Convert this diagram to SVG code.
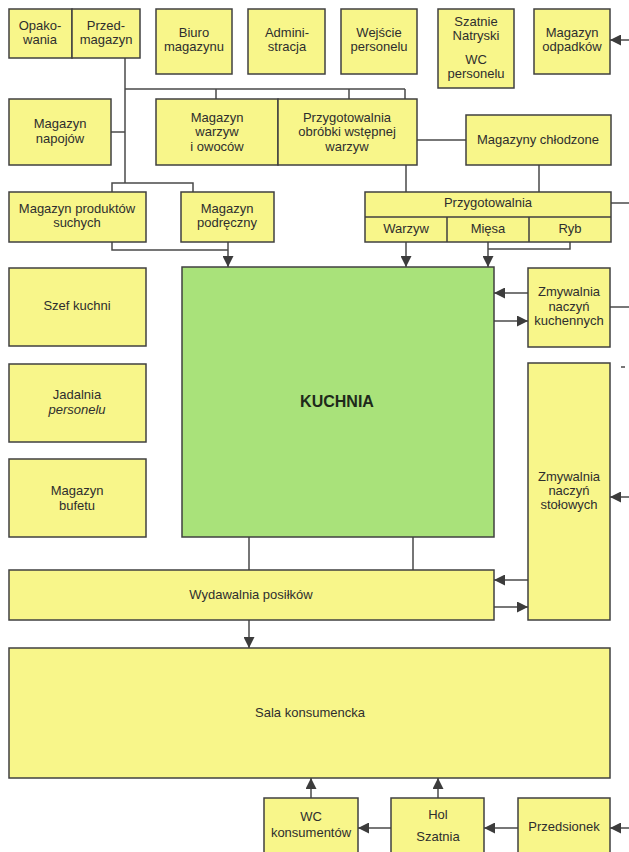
<svg xmlns="http://www.w3.org/2000/svg" width="629" height="852" viewBox="0 0 629 852">
<defs>
<marker id="ah" markerUnits="userSpaceOnUse" markerWidth="11" markerHeight="11" refX="11" refY="5.5" orient="auto">
<path d="M0,0 L11,5.5 L0,11 z" fill="#3c3c3c"/>
</marker>
</defs>
<style>
.b{fill:#f8f68a;stroke:#404040;stroke-width:1.5}
.k{fill:#a9e27a;stroke:#404040;stroke-width:1.5}
.t{font-family:"Liberation Sans",Arial,sans-serif;font-size:13px;fill:#2e2e2e;text-anchor:middle}
.c{fill:none;stroke:#4a4a4a;stroke-width:1.5}
.a{fill:none;stroke:#4a4a4a;stroke-width:1.5;marker-end:url(#ah)}
</style>
<rect width="629" height="852" fill="#ffffff"/>

<g id="connectors">
<path class="c" d="M125,58 V183"/>
<path class="c" d="M125,89 H405 M216,89 V99 M349,89 V99 M405,89 V99"/>
<path class="c" d="M111,132 H125"/>
<path class="c" d="M112,192 V183 H193 V192"/>
<path class="c" d="M112,242 V250 H228"/>
<path class="a" d="M228,242 V267"/>
<path class="c" d="M417,140 H466"/>
<path class="c" d="M406,165 V192 M539,165 V192"/>
<path class="c" d="M611,203 H629"/>
<path class="a" d="M406,242 V267"/>
<path class="c" d="M570,242 V249 H488"/>
<path class="a" d="M488,242 V267"/>
<path class="a" d="M629,40 H610"/>
<path class="a" d="M528,293 H494"/>
<path class="a" d="M494,321 H528"/>
<path class="c" d="M610,307 H629"/>
<path class="c" d="M621,367 H625"/>
<path class="a" d="M629,497 H610"/>
<path class="c" d="M249,537 V570 M413,537 V570"/>
<path class="a" d="M528,580 H494"/>
<path class="a" d="M494,607 H528"/>
<path class="a" d="M249,620 V648"/>
<path class="a" d="M311,798 V778"/>
<path class="a" d="M438,798 V778"/>
<path class="a" d="M391,828 H358"/>
<path class="a" d="M518,828 H484"/>
<path class="a" d="M629,828 H610"/>
</g>

<g id="opakowania"><rect class="b" x="9" y="9" width="63" height="49"/><text class="t" x="40" y="30">Opako-</text><text class="t" x="40" y="44">wania</text></g>
<g id="przedmagazyn"><rect class="b" x="72" y="9" width="68" height="49"/><text class="t" x="106" y="30">Przed-</text><text class="t" x="106" y="44">magazyn</text></g>
<g id="biuro"><rect class="b" x="156" y="9" width="76" height="65"/><text class="t" x="194" y="37">Biuro</text><text class="t" x="194" y="51">magazynu</text></g>
<g id="administracja"><rect class="b" x="248" y="9" width="77" height="65"/><text class="t" x="287" y="37">Admini-</text><text class="t" x="287" y="51">stracja</text></g>
<g id="wejscie"><rect class="b" x="341" y="9" width="76" height="65"/><text class="t" x="379" y="37">Wejście</text><text class="t" x="379" y="51">personelu</text></g>
<g id="szatnie"><rect class="b" x="438" y="9" width="76" height="79"/><text class="t" x="476" y="26">Szatnie</text><text class="t" x="476" y="40">Natryski</text><text class="t" x="476" y="64">WC</text><text class="t" x="476" y="78">personelu</text></g>
<g id="odpadki"><rect class="b" x="534" y="9" width="76" height="65"/><text class="t" x="572" y="37">Magazyn</text><text class="t" x="572" y="51">odpadków</text></g>

<g id="napoje"><rect class="b" x="9" y="99" width="102" height="66"/><text class="t" x="60" y="128">Magazyn</text><text class="t" x="60" y="143">napojów</text></g>
<g id="warzywa"><rect class="b" x="156" y="99" width="122" height="66"/><text class="t" x="217" y="122">Magazyn</text><text class="t" x="217" y="136">warzyw</text><text class="t" x="217" y="151">i owoców</text></g>
<g id="obrobka"><rect class="b" x="278" y="99" width="139" height="66"/><text class="t" x="347" y="122">Przygotowalnia</text><text class="t" x="347" y="136">obróbki wstępnej</text><text class="t" x="347" y="151">warzyw</text></g>
<g id="chlodzone"><rect class="b" x="466" y="115" width="145" height="50"/><text class="t" x="538" y="144">Magazyny chłodzone</text></g>

<g id="suche"><rect class="b" x="9" y="192" width="137" height="50"/><text class="t" x="77" y="213">Magazyn produktów</text><text class="t" x="77" y="227">suchych</text></g>
<g id="podreczny"><rect class="b" x="181" y="192" width="93" height="50"/><text class="t" x="227" y="213">Magazyn</text><text class="t" x="227" y="227">podręczny</text></g>
<g id="przygotowalnia"><rect class="b" x="365" y="192" width="246" height="50"/><path class="c" d="M365,217 H611 M447,217 V242 M529,217 V242" style="stroke:#404040"/><text class="t" x="488" y="207">Przygotowalnia</text><text class="t" x="406" y="233">Warzyw</text><text class="t" x="488" y="233">Mięsa</text><text class="t" x="570" y="233">Ryb</text></g>

<g id="szef"><rect class="b" x="9" y="268" width="137" height="78"/><text class="t" x="77" y="310">Szef kuchni</text></g>
<g id="jadalnia"><rect class="b" x="9" y="364" width="137" height="78"/><text class="t" x="77" y="399">Jadalnia</text><text class="t" x="77" y="414" font-style="italic">personelu</text></g>
<g id="bufet"><rect class="b" x="9" y="459" width="137" height="78"/><text class="t" x="77" y="495">Magazyn</text><text class="t" x="77" y="510">bufetu</text></g>

<g id="kuchnia"><rect class="k" x="182" y="267" width="312" height="270"/><text class="t" x="337" y="407" style="font-size:16px;font-weight:bold;fill:#1e2a1a">KUCHNIA</text></g>

<g id="zmyw-kuchenne"><rect class="b" x="528" y="268" width="82" height="79"/><text class="t" x="569" y="296">Zmywalnia</text><text class="t" x="569" y="311">naczyń</text><text class="t" x="569" y="325">kuchennych</text></g>
<g id="zmyw-stolowe"><rect class="b" x="528" y="363" width="82" height="257"/><text class="t" x="569" y="481">Zmywalnia</text><text class="t" x="569" y="495">naczyń</text><text class="t" x="569" y="509">stołowych</text></g>

<g id="wydawalnia"><rect class="b" x="9" y="570" width="485" height="50"/><text class="t" x="251" y="599">Wydawalnia posiłków</text></g>
<g id="sala"><rect class="b" x="9" y="648" width="601" height="130"/><text class="t" x="310" y="717">Sala konsumencka</text></g>

<g id="wc"><rect class="b" x="264" y="798" width="94" height="60"/><text class="t" x="311" y="821">WC</text><text class="t" x="311" y="837">konsumentów</text></g>
<g id="hol"><rect class="b" x="391" y="798" width="93" height="60"/><text class="t" x="438" y="819">Hol</text><text class="t" x="438" y="841">Szatnia</text></g>
<g id="przedsionek"><rect class="b" x="518" y="798" width="92" height="60"/><text class="t" x="564" y="831">Przedsionek</text></g>
</svg>
